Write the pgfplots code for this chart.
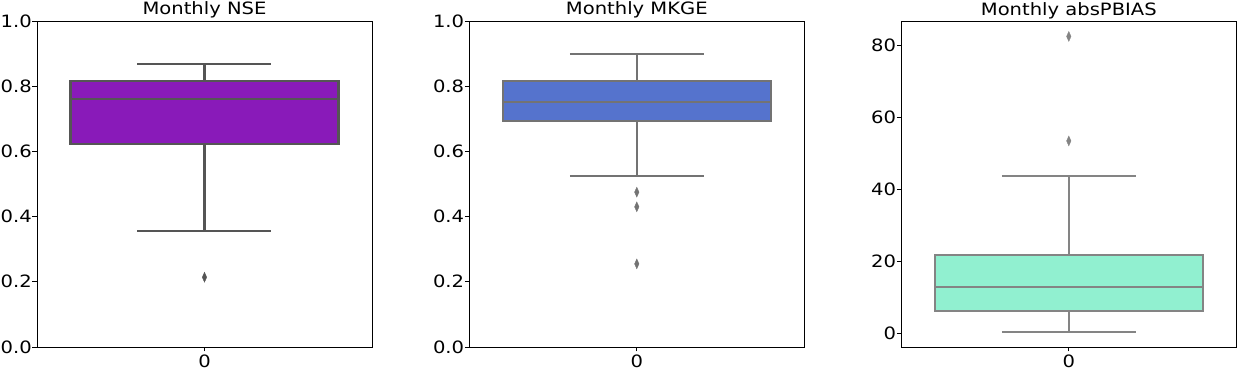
\documentclass[border=0pt]{standalone}
\usepackage{pgfplots}
\pgfplotsset{compat=1.18}
\usepackage{fontspec}
\setmainfont{DejaVu Sans}[FakeStretch=1.15]
\definecolor{nsefill}{RGB}{137,26,185}
\definecolor{nseline}{RGB}{85,85,85}
\definecolor{kgefill}{RGB}{85,115,205}
\definecolor{kgeline}{RGB}{115,115,115}
\definecolor{pbfill}{RGB}{145,240,208}
\definecolor{pbline}{RGB}{132,132,132}
\pgfplotsset{
  myaxis/.style={
    scale only axis, width=335pt, height=326pt,
    xmin=-0.5, xmax=0.5, xtick={0}, xticklabels={0},
    tick align=outside, major tick length=4.5pt,
    tick style={black, line width=0.8pt},
    axis line style={black, line width=0.8pt},
    tick label style={font=\fontsize{17}{20}\selectfont},
    /pgf/number format/assume math mode=true,
    xticklabel style={inner sep=3pt},
    yticklabel style={inner sep=0.5pt},
    title style={font=\fontsize{17}{20}\selectfont, inner sep=0pt, anchor=base, yshift=0pt},
    ytick pos=left, xtick pos=bottom,
  },
  boxln/.style={draw=#1, line width=2.1pt},
  outl/.style={only marks, mark=diamond*, mark size=5pt,
    mark options={solid, line width=0.3pt, fill=#1, draw=#1, xscale=0.6}},
}
\begin{document}
\begin{tikzpicture}
% ---------- NSE ----------
\begin{axis}[myaxis, at={(37pt,22pt)}, anchor=south west,
  title={Monthly NSE}, ymin=0, ymax=1, ytick={0,0.2,0.4,0.6,0.8,1.0},
  yticklabel style={/pgf/number format/.cd, fixed, fixed zerofill, precision=1}]
% Q1=0.623 Q3=0.817 median=0.761 whiskers 0.357 / 0.869
\addplot[boxln=nseline] coordinates {(0,0.623) (0,0.357)};
\addplot[boxln=nseline] coordinates {(0,0.817) (0,0.869)};
\addplot[boxln=nseline] coordinates {(-0.2,0.357) (0.2,0.357)};
\addplot[boxln=nseline] coordinates {(-0.2,0.869) (0.2,0.869)};
\addplot[boxln=nseline, fill=nsefill] coordinates {(-0.4,0.623) (0.4,0.623) (0.4,0.817) (-0.4,0.817)} --cycle;
\addplot[boxln=nseline] coordinates {(-0.4,0.761) (0.4,0.761)};
\addplot[outl=nseline] coordinates {(0,0.214)};
\end{axis}
% ---------- MKGE ----------
\begin{axis}[myaxis, at={(469.3pt,22pt)}, anchor=south west,
  title={Monthly MKGE}, ymin=0, ymax=1, ytick={0,0.2,0.4,0.6,0.8,1.0},
  yticklabel style={/pgf/number format/.cd, fixed, fixed zerofill, precision=1}]
\addplot[boxln=kgeline] coordinates {(0,0.694) (0,0.525)};
\addplot[boxln=kgeline] coordinates {(0,0.817) (0,0.900)};
\addplot[boxln=kgeline] coordinates {(-0.2,0.525) (0.2,0.525)};
\addplot[boxln=kgeline] coordinates {(-0.2,0.900) (0.2,0.900)};
\addplot[boxln=kgeline, fill=kgefill] coordinates {(-0.4,0.694) (0.4,0.694) (0.4,0.817) (-0.4,0.817)} --cycle;
\addplot[boxln=kgeline] coordinates {(-0.4,0.752) (0.4,0.752)};
\addplot[outl=kgeline] coordinates {(0,0.475) (0,0.430) (0,0.255)};
\end{axis}
% ---------- absPBIAS ----------
\begin{axis}[myaxis, at={(901.3pt,22pt)}, anchor=south west,
  title={Monthly absPBIAS}, ymin=-3.9, ymax=86.9, ytick={0,20,40,60,80}]
\addplot[boxln=pbline] coordinates {(0,6.2) (0,0.36)};
\addplot[boxln=pbline] coordinates {(0,21.7) (0,43.8)};
\addplot[boxln=pbline] coordinates {(-0.2,0.36) (0.2,0.36)};
\addplot[boxln=pbline] coordinates {(-0.2,43.8) (0.2,43.8)};
\addplot[boxln=pbline, fill=pbfill] coordinates {(-0.4,6.2) (0.4,6.2) (0.4,21.7) (-0.4,21.7)} --cycle;
\addplot[boxln=pbline] coordinates {(-0.4,12.9) (0.4,12.9)};
\addplot[outl=pbline] coordinates {(0,82.6) (0,53.5)};
\end{axis}
\pgfresetboundingbox
\path[use as bounding box] (0pt,0pt) rectangle (1237pt,369pt);
\end{tikzpicture}
\end{document}
